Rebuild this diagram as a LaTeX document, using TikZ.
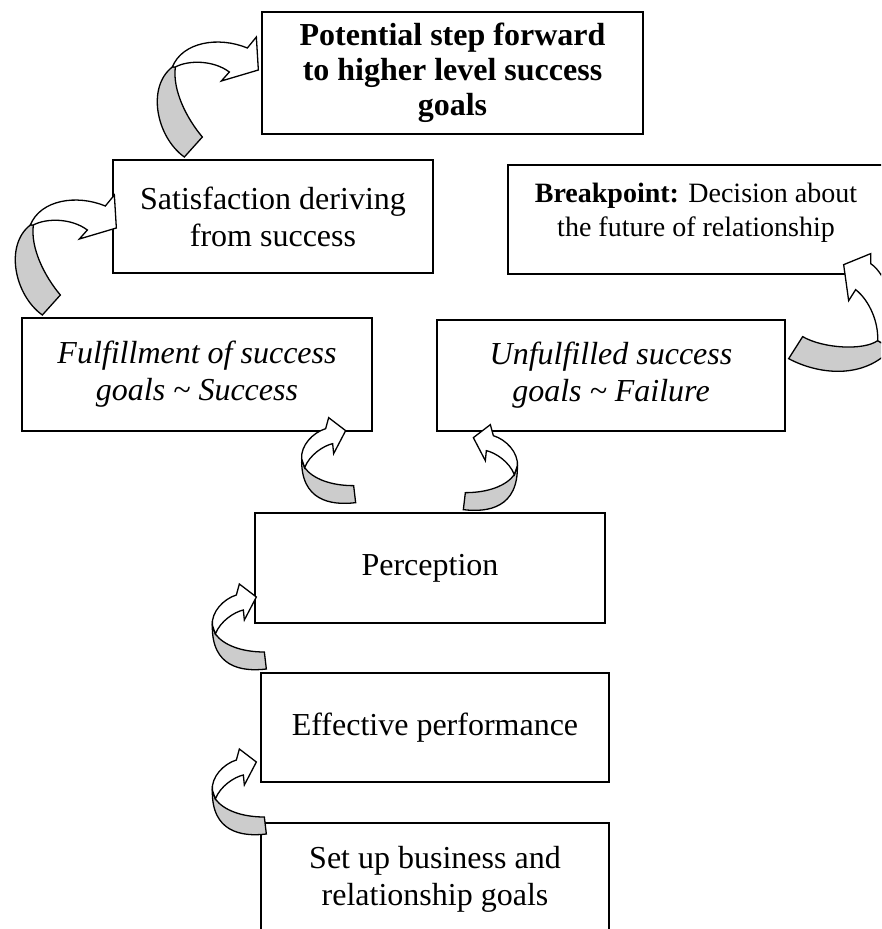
\documentclass[tikz,border=0pt]{standalone}
\usepackage{fontspec}
\setmainfont{Liberation Serif}

\tikzset{
  stage/.style={draw, line width=1.3pt, align=center, inner sep=0pt,
    font=\fontsize{32}{37}\selectfont},
  back/.style={draw, line width=1.3pt, fill=gray!40},
  front/.style={draw, line width=1.3pt, fill=white},
  % ribbon arrow: tail below, head to the right
  curlA/.pic={
    \path[back] (-74,87) -- (-56,67)
      .. controls (-72,48) and (-86,20) .. (-83,-3) -- (-86,-3)
      .. controls (-112,17) and (-102,67) .. (-74,87) -- cycle;
    \path[front] (-86,-3)
      .. controls (-76,-28) and (-40,-34) .. (-11,-22)
      -- (-2,-33) -- (0,0) -- (-37,11) -- (-29,2)
      .. controls (-45,-10) and (-70,-10) .. (-83,-3) -- cycle;
  },
  % ribbon arrow: C shaped, head up and right
  curlC/.pic={
    \path[back] (8,55) -- (10,72)
      .. controls (-15,75) and (-45,70) .. (-44,28) -- (-41,37)
      .. controls (-33,48) and (-15,55) .. (8,55) -- cycle;
    \path[front] (-44,28)
      .. controls (-45,15) and (-33,2) .. (-20,-2)
      -- (-17,-13) -- (0,0) -- (-12,23) -- (-13,13)
      .. controls (-22,15) and (-36,24) .. (-41,37) -- cycle;
  },
  % ribbon arrow: tail left, head up
  curlB/.pic={
    \path[back] (-41,72) -- (-55,94)
      .. controls (-25,110) and (20,115) .. (48,84) -- (34,76)
      .. controls (20,86) and (-20,84) .. (-41,72) -- cycle;
    \path[front] (34,76)
      .. controls (35,58) and (26,36) .. (12,25)
      -- (5,36) -- (0,0) -- (27,-11) -- (27,-1)
      .. controls (42,8) and (62,55) .. (48,84) -- cycle;
  },
}

\begin{document}
\begin{tikzpicture}[x=1pt,y=-1pt]
  \useasboundingbox (0,0) rectangle (881,929);
  \clip (0,0) rectangle (881,929);

  % boxes
  \node[stage, font=\bfseries\fontsize{32}{35}\selectfont,
    minimum width=381pt, minimum height=122pt] (pot) at (452.5,73)
    {Potential step forward\\to higher level success\\goals};
  \node[stage, minimum width=320pt, minimum height=113pt] (sat) at (273,216.5)
    {Satisfaction deriving\\from success};
  \node[stage, font=\fontsize{28}{34}\selectfont, text depth=20pt,
    minimum width=376pt, minimum height=109pt] (bp) at (696,219.5)
    {\textbf{Breakpoint:} Decision about\\the future of relationship};
  \node[stage, font=\itshape\fontsize{32}{37}\selectfont,
    minimum width=350pt, minimum height=113pt] (ful) at (197,374.5)
    {Fulfillment of success\\goals \textasciitilde{} Success};
  \node[stage, font=\itshape\fontsize{32}{37}\selectfont,
    minimum width=348pt, minimum height=111pt] (unf) at (611,375.5)
    {Unfulfilled success\\goals \textasciitilde{} Failure};
  \node[stage, minimum width=350pt, minimum height=110pt] (perc) at (430,568)
    {Perception};
  \node[stage, minimum width=348pt, minimum height=109pt] (eff) at (435,727.5)
    {Effective performance};
  \node[stage, minimum width=348pt, minimum height=112pt] (goal) at (435,879)
    {Set up business and\\relationship goals};

  % curved arrows
  \pic at ([shift={(-3,-3)}]pot.west) {curlA};
  \pic at ([shift={(4,11.5)}]sat.west) {curlA};
  \pic at ([shift={(-41,-10)}]bp.south east) {curlB};
  \pic at ([shift={(-27,-1)}]ful.south east) {curlC};
  \pic[xscale=-1] at ([shift={(37,6)}]unf.south west) {curlC};
  \pic at ([shift={(2,29)}]perc.west) {curlC};
  \pic at ([shift={(-4,34.5)}]eff.west) {curlC};
\end{tikzpicture}
\end{document}
